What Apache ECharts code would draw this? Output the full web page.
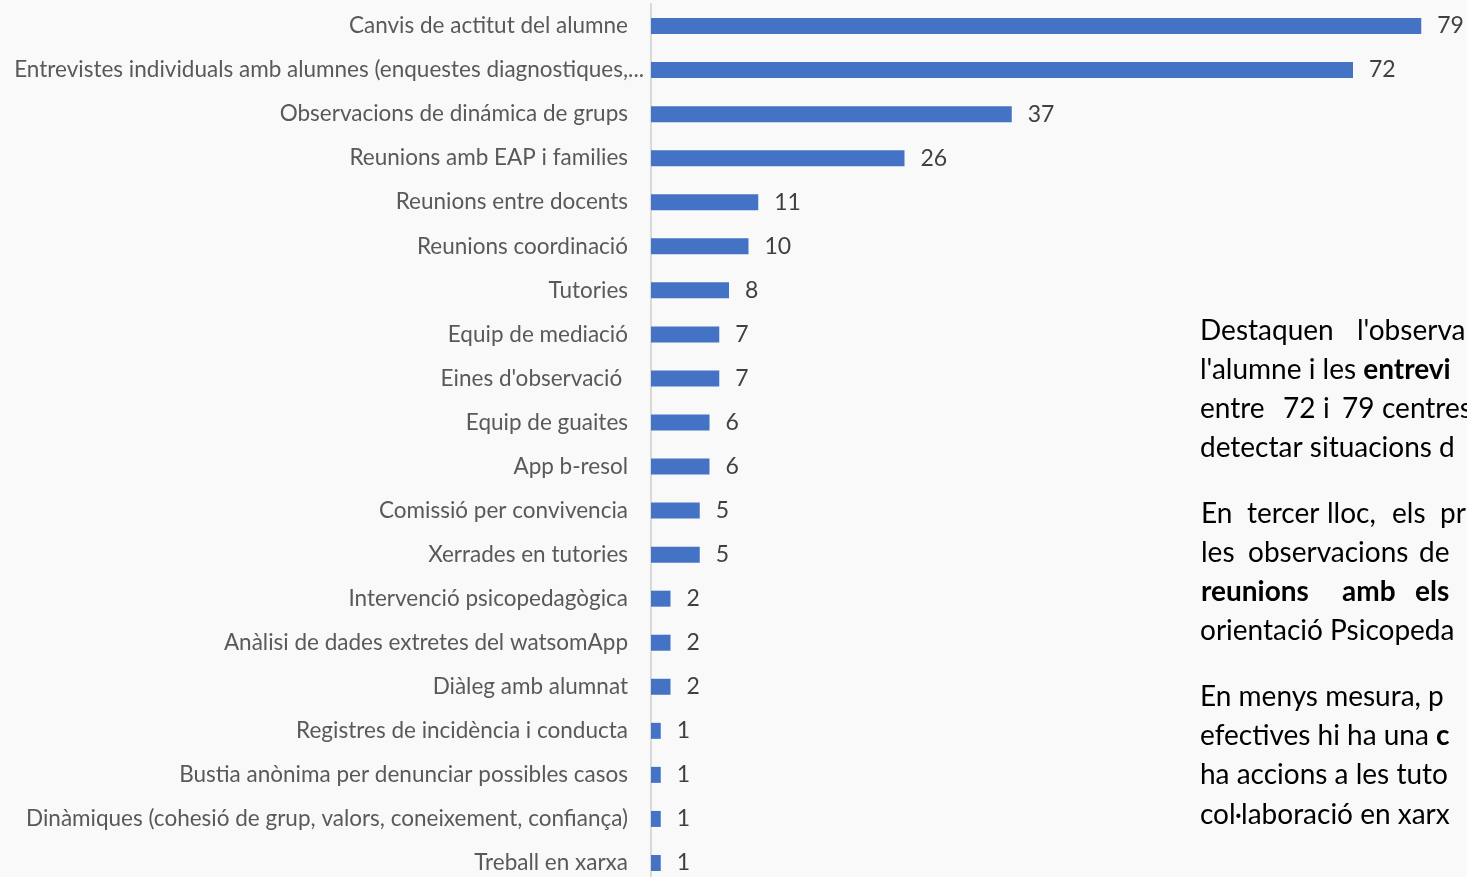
<!DOCTYPE html>
<html>
<head>
<meta charset="utf-8">
<script src="https://cdn.jsdelivr.net/npm/echarts@6/dist/echarts.min.js"></script>
<style>
html,body{margin:0;padding:0;background:#f9f9f9;overflow:hidden;width:1467px;height:877px;}
#chart{width:1467px;height:890px;}
</style>
</head>
<body>
<div id="chart"></div>
<script>
const categories = [
  "Canvis de actitut del alumne",
  "Entrevistes individuals amb alumnes (enquestes diagnostiques,...",
  "Observacions de dinámica de grups",
  "Reunions amb EAP i families",
  "Reunions entre docents",
  "Reunions coordinació",
  "Tutories",
  "Equip de mediació",
  "Eines d'observació ",
  "Equip de guaites",
  "App b-resol",
  "Comissió per convivencia",
  "Xerrades en tutories",
  "Intervenció psicopedagògica",
  "Anàlisi de dades extretes del watsomApp",
  "Diàleg amb alumnat",
  "Registres de incidència i conducta",
  "Bustia anònima per denunciar possibles casos",
  "Dinàmiques (cohesió de grup, valors, coneixement, confiança)",
  "Treball en xarxa"
];
const values = [79, 72, 37, 26, 11, 10, 8, 7, 7, 6, 6, 5, 5, 2, 2, 2, 1, 1, 1, 1];

// Side text (visible part of the paragraph box), words of justified lines
const textLines = [
  [["Destaquen", 1200], ["l'observa", 1357]],
  [["l'alumne i les ", 1200, false], ["entrevi", null, true]],
  [["entre", 1200], ["72", 1283], ["i", 1323], ["79", 1342], ["centres", 1382]],
  [["detectar situacions d", 1200]],
  [["En", 1201], ["tercer", 1247], ["lloc,", 1327], ["els", 1392], ["pr", 1440]],
  [["les", 1201], ["observacions", 1248], ["de", 1419]],
  [["reunions", 1201, true], ["amb", 1342, true], ["els", 1415, true]],
  [["orientació Psicopeda", 1200]],
  [["En menys mesura, p", 1200]],
  [["efectives hi ha una ", 1200, false], ["c", null, true]],
  [["ha accions a les tuto", 1200]],
  [["col·laboració en xarx", 1200]]
];
const textLineY = [331, 370, 409, 448, 514, 553, 592, 631, 697, 736, 775, 815];

const FONT = "Lato, 'Open Sans', sans-serif";
const TFS = 28;
const chart = echarts.init(document.getElementById('chart'));

const graphics = [];
textLines.forEach((line, i) => {
  if (line.some(w => w[1] === null)) {
    let s = '';
    line.forEach(w => { s += (w[2] ? '{b|' : '{n|') + w[0] + '}'; });
    graphics.push({
      type: 'text', left: line[0][1], top: textLineY[i] - 14,
      style: {
        text: s, fontFamily: FONT, fontSize: TFS, fill: '#000',
        rich: { n: { fontFamily: FONT, fontSize: TFS, color: '#000' },
                b: { fontFamily: FONT, fontSize: TFS, color: '#000', fontWeight: 'bold' } }
      }
    });
  } else {
    line.forEach(w => {
      graphics.push({
        type: 'text', left: w[1], top: textLineY[i] - 14,
        style: { text: w[0], fontFamily: FONT, fontSize: TFS, fill: '#000', fontWeight: w[2] ? 'bold' : 'normal' }
      });
    });
  }
});

chart.setOption({
  backgroundColor: '#f9f9f9',
  animation: false,
  grid: { left: 651, top: 4, width: 780, height: 881 },
  xAxis: { type: 'value', min: 0, max: 80, show: false },
  yAxis: {
    type: 'category', data: categories, inverse: true,
    axisLine: { show: true, lineStyle: { color: '#d9d9d9', width: 2 } },
    axisTick: { show: false },
    axisLabel: {
      color: '#595959', fontSize: 22.5, fontFamily: FONT, margin: 7,
      formatter: (v, i) => i === 1 ? v : v + '{s| }',
      rich: { s: { width: 16 } }
    }
  },
  series: [{
    type: 'bar', data: values, barWidth: 16,
    itemStyle: { color: '#4472c4' },
    label: { show: true, position: 'right', distance: 16, color: '#404040', fontSize: 23, fontFamily: FONT }
  }],
  graphic: graphics
});
</script>
</body>
</html>
